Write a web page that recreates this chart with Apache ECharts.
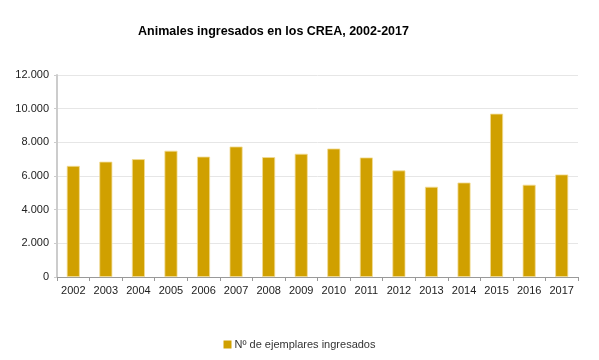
<!DOCTYPE html>
<html>
<head>
<meta charset="utf-8">
<script src="https://cdn.jsdelivr.net/npm/echarts@6/dist/echarts.min.js"></script>
<style>html,body{margin:0;padding:0;background:#fff}#c{width:599px;height:360px}</style>
</head>
<body>
<div id="c"></div>
<script>
const categories = ['2002','2003','2004','2005','2006','2007','2008','2009','2010','2011','2012','2013','2014','2015','2016','2017'];
const values = [6600, 6850, 7000, 7500, 7150, 7750, 7120, 7320, 7630, 7100, 6330, 5360, 5610, 9700, 5480, 6090];
const seriesName = 'Nº de ejemplares ingresados';
const titleText = 'Animales ingresados en los CREA, 2002-2017';

const fmt = v => String(v).replace(/\B(?=(\d{3})+(?!\d))/g, '.');
const chart = echarts.init(document.getElementById('c'), null, {renderer: 'canvas'});
chart.setOption({
  animation: false,
  title: {
    text: titleText, left: 138, top: 25, padding: 0,
    textStyle: {fontFamily: 'Liberation Sans', fontSize: 12.5, fontWeight: 'bold', color: '#000'}
  },
  legend: {
    data: [seriesName], left: 'center', top: 334, itemWidth: 8, itemHeight: 8, itemGap: 3,
    icon: 'rect', itemStyle: {borderWidth: 0},
    textStyle: {fontFamily: 'Liberation Sans', fontSize: 11, color: '#333', padding: [0,0,0,-2]}
  },
  grid: {left: 57, right: 21, top: 75, bottom: 83, containLabel: false},
  xAxis: {
    type: 'category', data: categories,
    axisLine: {lineStyle: {color: '#999', width: 1}},
    axisTick: {show: true, alignWithLabel: false, length: 4, lineStyle: {color: '#999'}},
    axisLabel: {fontFamily: 'Liberation Sans', fontSize: 11, color: '#222', margin: 8}
  },
  yAxis: {
    type: 'value', min: 0, max: 12000, interval: 2000,
    axisLine: {show: true, lineStyle: {color: '#ccc', width: 2}},
    axisTick: {show: true, length: 3, lineStyle: {color: '#ccc'}},
    splitLine: {lineStyle: {color: '#e6e6e6'}},
    axisLabel: {fontFamily: 'Liberation Sans', fontSize: 11, color: '#222', margin: 8, formatter: fmt}
  },
  series: [{
    name: seriesName, type: 'bar', data: values, barWidth: 13,
    itemStyle: {color: '#d0a000', borderColor: '#f3dc94', borderWidth: 0.8}
  }]
});
</script>
</body>
</html>
